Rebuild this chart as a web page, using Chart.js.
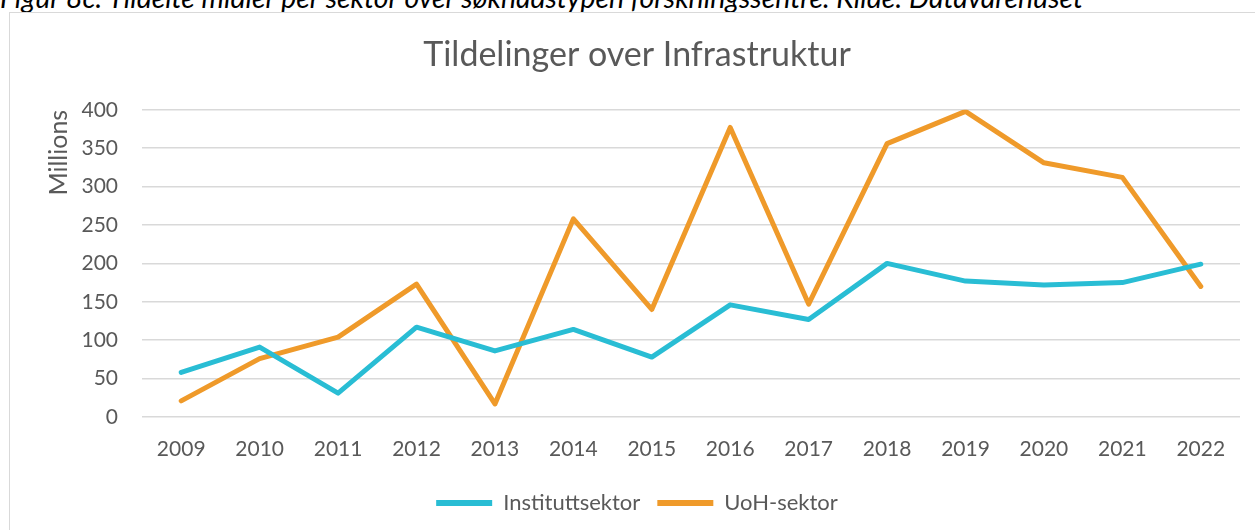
<!DOCTYPE html>
<html>
<head>
<meta charset="utf-8">
<script src="https://cdn.jsdelivr.net/npm/chart.js@4.4.1/dist/chart.umd.min.js"></script>
<style>
  html, body { margin: 0; padding: 0; background: #fff; overflow: hidden; }
  body { width: 1255px; height: 530px; position: relative; }
  #caption { position: absolute; left: 0; top: -17px; font: italic 28.4px Lato, "Open Sans", sans-serif; color: #000; white-space: nowrap; line-height: 28px; }
  #frame { position: absolute; left: 9px; top: 12px; width: 1300px; height: 600px; border: 1px solid #d9d9d9; box-sizing: border-box; background: #fff; }
  #wrap { position: absolute; left: 0; top: 0; width: 1255px; height: 530px; }
</style>
</head>
<body>
<div id="caption">Figur 8c: Tildelte midler per sektor over søknadstypen forskningssentre. Kilde: Datavarehuset</div>
<div id="frame"></div>
<div id="wrap"><canvas id="c"></canvas></div>
<script>
const years = ["2009","2010","2011","2012","2013","2014","2015","2016","2017","2018","2019","2020","2021","2022"];
const instituttsektor = [58, 91, 31, 117, 86, 114, 78, 146, 127, 200, 177, 172, 175, 199];
const uohSektor = [21, 76, 104, 173, 17, 258, 140, 377, 147, 356, 398, 331, 312, 170];
const yTicks = [0, 50, 100, 150, 200, 250, 300, 350, 400];

const FONT = 'Lato, "Open Sans", sans-serif';
const GREY = '#595959';
const CYAN = '#29bdd4';
const ORANGE = '#ef9a2a';

new Chart(document.getElementById('c'), {
  type: 'line',
  data: {
    labels: years,
    datasets: [
      { label: 'Instituttsektor', data: instituttsektor, borderColor: CYAN, backgroundColor: CYAN, borderWidth: 5, pointRadius: 0, borderJoinStyle: 'round', borderCapStyle: 'round', tension: 0 },
      { label: 'UoH-sektor', data: uohSektor, borderColor: ORANGE, backgroundColor: ORANGE, borderWidth: 5, pointRadius: 0, borderJoinStyle: 'round', borderCapStyle: 'round', tension: 0 }
    ]
  },
  options: {
    responsive: true,
    maintainAspectRatio: false,
    animation: false,
    layout: { padding: { left: 34, right: 15, top: 0, bottom: 6 } },
    plugins: {
      tooltip: { enabled: false },
      title: {
        display: true,
        text: 'Tildelinger over Infrastruktur',
        color: GREY,
        font: { family: FONT, size: 34, weight: 'normal' },
        padding: { top: 35, bottom: 34 }
      },
      legend: {
        position: 'bottom',
        labels: {
          color: GREY,
          font: { family: FONT, size: 22 },
          boxWidth: 56,
          boxHeight: 6,
          padding: 17,
          generateLabels(chart) {
            return chart.data.datasets.map((ds, i) => ({
              text: ds.label, fillStyle: ds.borderColor, strokeStyle: ds.borderColor,
              lineWidth: 0, hidden: false, datasetIndex: i, fontColor: GREY
            }));
          }
        }
      }
    },
    scales: {
      x: {
        type: 'category',
        offset: true,
        grid: { display: false, drawTicks: false },
        border: { display: false },
        ticks: { color: GREY, font: { family: FONT, size: 21 }, padding: 20, maxRotation: 0, autoSkip: false },
        afterFit(scale) { scale.height = 58; }
      },
      y: {
        min: 0, max: 400,
        afterBuildTicks(scale) { scale.ticks = yTicks.map(v => ({ value: v })); },
        grid: { color: '#d9d9d9', lineWidth: 1.5, drawTicks: false },
        border: { display: false },
        ticks: { color: GREY, font: { family: FONT, size: 21 }, padding: 24 },
        title: { display: true, text: 'Millions', color: GREY, align: 'end', font: { family: FONT, size: 25 }, padding: { top: 10, bottom: 0 } },
        afterFit(scale) { scale.width = 108; }
      }
    }
  }
});
</script>
</body>
</html>
